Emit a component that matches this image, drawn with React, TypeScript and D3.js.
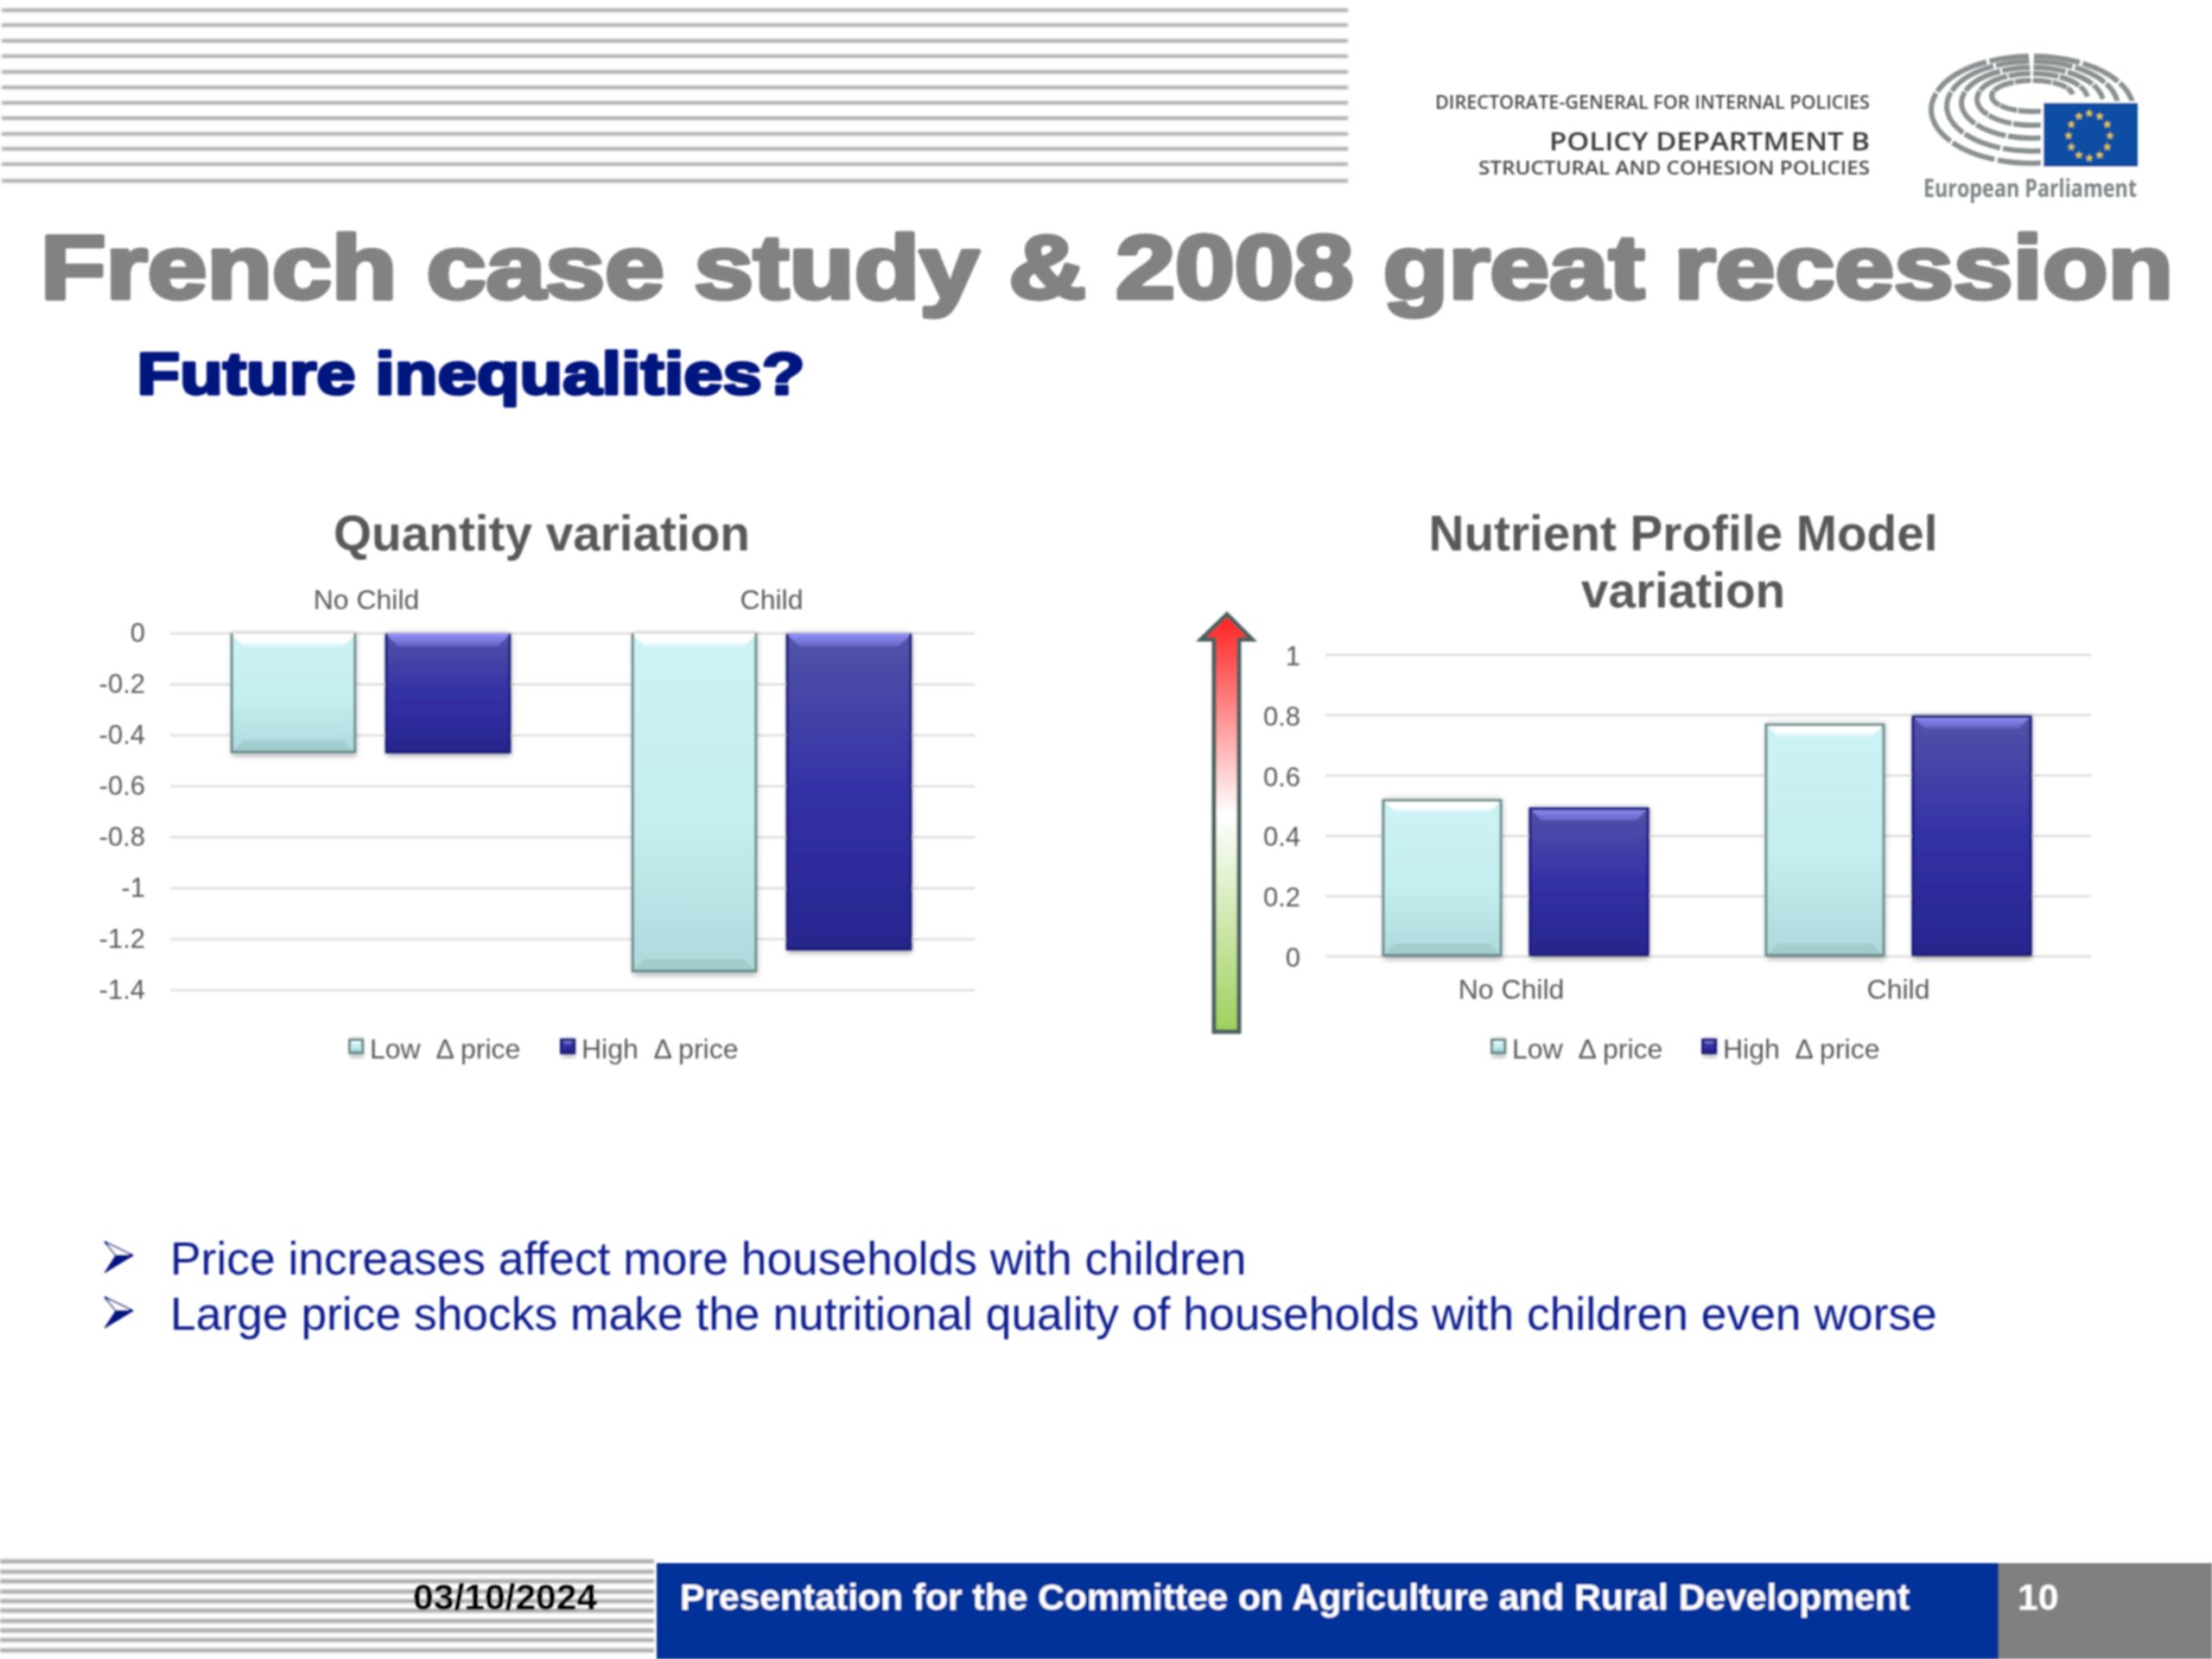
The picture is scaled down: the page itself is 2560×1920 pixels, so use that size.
import React from 'react';
import * as d3 from 'd3';

const FONT = '"Liberation Sans", Arial, sans-serif';
const LOGO_FONT = '"Open Sans", sans-serif';

// chart data
const categories = ['No Child', 'Child'];
const categoryNudge = [-5, 0];
const seriesNames = ['Low', 'High'];
const quantityLow = [-0.47, -1.33];
const quantityHigh = [-0.47, -1.243];
const nutrientLow = [0.522, 0.773];
const nutrientHigh = [0.494, 0.8];
const quantityTicks = [0, -0.2, -0.4, -0.6, -0.8, -1, -1.2, -1.4];
const nutrientTicks = [0, 0.2, 0.4, 0.6, 0.8, 1];

const headerStripes = [11.7, 29, 47.3, 65, 83.3, 101.3, 119, 136.7, 155, 172.3, 190, 209.3];
const footerStripes = [1807, 1819, 1830, 1842, 1853, 1864, 1876, 1887, 1898, 1910];
const bullets = [
  'Price increases affect more households with children',
  'Large price shocks make the nutritional quality of households with children even worse',
];

// logo: [rx, ry, cy] for each ring of the hemicycle
const logoRings = [
  [117, 62, 127],
  [99, 52, 123],
  [82, 41, 119],
  [64, 30, 115],
  [47, 18, 111],
];
const logoSegments = [
  [-195, -160], [-158, -128], [-126, -72], [-70, -27], [-25, -2], [1, 28], [30, 58], [60, 84],
];

const palette: Record<string, { edge: string; bottom: string; grad: string; bevel: string; bottomOpacity: number }> = {
  Low: { edge: '#6d8a8a', bottom: '#93bdc0', grad: 'url(#lowFill)', bevel: 'url(#lowBevel)', bottomOpacity: 0.5 },
  High: { edge: '#1f1f78', bottom: '#25258a', grad: 'url(#highFill)', bevel: 'url(#highBevel)', bottomOpacity: 0.8 },
};

const Bar = ({ name, x, y, w, h, topEdge }: { name: string; x: number; y: number; w: number; h: number; topEdge: boolean }) => {
  const c = palette[name];
  const b = Math.min(15, h / 3);
  return (
    <g>
      <rect x={x + 2} y={y} width={w - 2} height={h + 3} fill="#000" opacity={0.35} filter="url(#barShadow)" />
      <rect x={x} y={y} width={w} height={h} fill={c.grad} />
      <path d={`M${x},${y}H${x + w}l${-b},${b}H${x + b}Z`} fill={c.bevel} />
      <path d={`M${x},${y + h}H${x + w}l${-b},${-b}H${x + b}Z`} fill={c.bottom} opacity={c.bottomOpacity} />
      <path
        d={
          topEdge
            ? `M${x + 1.5},${y + h - 1.5}V${y + 1.5}H${x + w - 1.5}V${y + h - 1.5}Z`
            : `M${x + 1.5},${y}V${y + h - 1.5}H${x + w - 1.5}V${y}`
        }
        fill="none"
        stroke={c.edge}
        strokeWidth={3}
      />
    </g>
  );
};

interface PanelProps {
  low: number[];
  high: number[];
  ticks: number[];
  gridRange: [number, number];
  barRange: [number, number];
  yRange: [number, number];
  domain: [number, number];
  padInner: number;
  padOuter: number;
  tickRight: number;
  tickDy: number;
  catY: number;
  legendX: number[];
  legendY: number;
}

const Panel = ({ low, high, ticks, gridRange, barRange, yRange, domain, padInner, padOuter, tickRight, tickDy, catY, legendX, legendY }: PanelProps) => {
  const x0 = d3.scaleBand<string>().domain(categories).range(barRange);
  const x1 = d3.scaleBand<string>().domain(seriesNames).range([0, x0.bandwidth()]).paddingInner(padInner).paddingOuter(padOuter);
  const y = d3.scaleLinear().domain(domain).range(yRange);
  const values: Record<string, number[]> = { Low: low, High: high };

  return (
    <g fontFamily={FONT} fill="#595959">
      {ticks.map((t) => (
        <g key={t}>
          <line x1={gridRange[0]} x2={gridRange[1]} y1={y(t)} y2={y(t)} stroke="#e1e1e1" strokeWidth={3} />
          <text x={tickRight} y={y(t) + tickDy} textAnchor="end" fontSize={31}>{String(t)}</text>
        </g>
      ))}
      {categories.map((cat, i) => (
        <g key={cat}>
          {seriesNames.map((s) => {
            const v = values[s][i];
            return (
              <Bar
                key={s}
                name={s}
                x={(x0(cat) as number) + (x1(s) as number)}
                y={Math.min(y(v), y(0))}
                w={x1.bandwidth()}
                h={Math.abs(y(v) - y(0))}
                topEdge={v > 0}
              />
            );
          })}
          <text x={(x0(cat) as number) + x0.bandwidth() / 2 + categoryNudge[i]} y={catY} textAnchor="middle" fontSize={32}>{cat}</text>
        </g>
      ))}
      {seriesNames.map((s, i) => (
        <g key={s}>
          <Bar name={s} x={legendX[i]} y={legendY - 23} w={18} h={18} topEdge />
          <text x={legendX[i] + 25} y={legendY} fontSize={32}>{`${s} \u00a0\u0394 price`}</text>
        </g>
      ))}
    </g>
  );
};

const Logo = () => {
  const arc = d3.arc<number[]>()
    .innerRadius(100)
    .outerRadius(100)
    .startAngle((d) => (d[0] * Math.PI) / 180)
    .endAngle((d) => (d[1] * Math.PI) / 180);
  const star = d3.symbol().type(d3.symbolStar).size(30)() as string;
  const starAngles = d3.range(12).map((i) => (i * Math.PI) / 6);
  return (
    <g>
      <g fontFamily={LOGO_FONT} textAnchor="end" fill="#4a4a4a" fontWeight={600}>
        <text x={2164} y={126} fontSize={21} textLength={503} lengthAdjust="spacingAndGlyphs">DIRECTORATE-GENERAL FOR INTERNAL POLICIES</text>
        <text x={2164} y={174} fontSize={29} textLength={371} lengthAdjust="spacingAndGlyphs" fill="#3a3a3a">POLICY DEPARTMENT B</text>
        <text x={2164} y={202} fontSize={22} textLength={453} lengthAdjust="spacingAndGlyphs">STRUCTURAL AND COHESION POLICIES</text>
      </g>
      {logoRings.map(([rx, ry, cy]) => (
        <g key={rx} transform={`translate(2352,${cy}) scale(${rx / 100},${ry / 100})`}>
          {logoSegments.map((seg) => (
            <path key={seg[0]} d={arc(seg) as string} fill="none" stroke="#8a9090" strokeWidth={6} vectorEffect="non-scaling-stroke" />
          ))}
        </g>
      ))}
      <rect x={2362} y={117} width={112} height={77} fill="#fff" />
      <rect x={2365} y={119} width={109} height={74} fill="#0f4da3" />
      {starAngles.map((a) => (
        <path key={a} d={star} fill="#e8cf3a" transform={`translate(${2418 + 24 * Math.sin(a)},${157 - 26 * Math.cos(a)})`} />
      ))}
      <text x={2226} y={228} fontFamily={LOGO_FONT} fontWeight={700} fontSize={28} fill="#7b8284" textLength={247} lengthAdjust="spacingAndGlyphs">European Parliament</text>
    </g>
  );
};

const App = () => {
  const titleGray = '#828282';
  const navy = '#00127f';
  return (
    <svg width={2560} height={1920} style={{ position: 'absolute', left: 0, top: 0, display: 'block', background: '#fff' }}>
      <defs>
        <linearGradient id="lowFill" x1="0" y1="0" x2="0" y2="1">
          <stop offset="0%" stopColor="#cdf3f5" />
          <stop offset="55%" stopColor="#c4eef0" />
          <stop offset="100%" stopColor="#aed9dc" />
        </linearGradient>
        <linearGradient id="highFill" x1="0" y1="0" x2="0" y2="1">
          <stop offset="0%" stopColor="#5453a8" />
          <stop offset="50%" stopColor="#3331a6" />
          <stop offset="100%" stopColor="#28268f" />
        </linearGradient>
        <linearGradient id="lowBevel" x1="0" y1="0" x2="0" y2="1">
          <stop offset="0%" stopColor="#ffffff" />
          <stop offset="60%" stopColor="#ffffff" />
          <stop offset="100%" stopColor="#ddf6f7" />
        </linearGradient>
        <linearGradient id="highBevel" x1="0" y1="0" x2="0" y2="1">
          <stop offset="0%" stopColor="#9693fb" />
          <stop offset="100%" stopColor="#6563c4" />
        </linearGradient>
        <linearGradient id="arrowFill" x1="0" y1="0" x2="0" y2="1">
          <stop offset="0%" stopColor="#ff1f1f" />
          <stop offset="48%" stopColor="#ffffff" />
          <stop offset="100%" stopColor="#9ed05c" />
        </linearGradient>
        <filter id="soft" x="-1%" y="-5%" width="102%" height="110%">
          <feGaussianBlur stdDeviation="1" />
        </filter>
        <filter id="softAll" filterUnits="userSpaceOnUse" x="0" y="0" width="2560" height="1920">
          <feGaussianBlur stdDeviation="0.8" />
        </filter>
        <filter id="barShadow" x="-10%" y="-10%" width="120%" height="120%">
          <feGaussianBlur stdDeviation="3" />
        </filter>
      </defs>

      <g filter="url(#softAll)">
        <g filter="url(#soft)">
          {headerStripes.map((y) => (
            <line key={y} x1={2} x2={1560} y1={y} y2={y} stroke="#9e9e9e" strokeWidth={3.5} />
          ))}
        </g>

        <Logo />

        <g fontFamily={FONT} fontWeight={700}>
          <text x={47} y={345} fontSize={104} fill={titleGray} stroke={titleGray} strokeWidth={5} strokeLinejoin="round" textLength={2468} lengthAdjust="spacingAndGlyphs">French case study &amp; 2008 great recession</text>
          <text x={158.5} y={456} fontSize={69} fill={navy} stroke={navy} strokeWidth={3.5} strokeLinejoin="round" textLength={773} lengthAdjust="spacingAndGlyphs">Future inequalities?</text>
        </g>

        <g fontFamily={FONT} fontWeight={700} fontSize={56.7} fill="#595959" textAnchor="middle">
          <text x={627} y={637}>Quantity variation</text>
          <text x={1948} y={637}>Nutrient Profile Model</text>
          <text x={1948} y={703}>variation</text>
        </g>

        <Panel
          low={quantityLow}
          high={quantityHigh}
          ticks={quantityTicks}
          gridRange={[197, 1128]}
          barRange={[197, 1125]}
          yRange={[733, 1146]}
          domain={[0, -1.4]}
          padInner={0.187}
          padOuter={0.39}
          tickRight={168}
          tickDy={10}
          catY={705}
          legendX={[403, 648]}
          legendY={1225}
        />

        <path
          d="M1420,711 L1449,740 L1434,740 L1434,1194 L1405,1194 L1405,740 L1390,740 Z"
          fill="url(#arrowFill)"
          stroke="#4a5f5f"
          strokeWidth={5}
          strokeLinejoin="miter"
        />

        <Panel
          low={nutrientLow}
          high={nutrientHigh}
          ticks={nutrientTicks}
          gridRange={[1534, 2420]}
          barRange={[1532.5, 2418.5]}
          yRange={[1107, 758]}
          domain={[0, 1]}
          padInner={0.182}
          padOuter={0.394}
          tickRight={1505}
          tickDy={12}
          catY={1156}
          legendX={[1725, 1969]}
          legendY={1225}
        />

        {bullets.map((b, i) => {
          const dy = i * 64;
          return (
            <g key={b}>
              <path d={`M121,${1437 + dy} L154,${1453 + dy} L134,${1453 + dy} Z`} fill="#fff" stroke={navy} strokeWidth={1.5} />
              <path d={`M121,${1473 + dy} L154,${1453 + dy} L134,${1453 + dy} Z`} fill={navy} stroke={navy} strokeWidth={1} />
              <text x={197} y={1475 + dy} fontFamily={FONT} fontSize={53.4} fill="#0a1a8c">{b}</text>
            </g>
          );
        })}

        <g filter="url(#soft)">
          {footerStripes.map((y) => (
            <line key={y} x1={0} x2={757} y1={y} y2={y} stroke="#a6a6a6" strokeWidth={4.5} />
          ))}
        </g>
        <rect x={760} y={1809} width={1553} height={111} fill="#003299" />
        <rect x={2313} y={1809} width={247} height={111} fill="#808080" />
        <g fontFamily={FONT} fontWeight={700} fontSize={42.6}>
          <text x={478} y={1863} fill="#000">03/10/2024</text>
          <text x={787} y={1863} fill="#fff">Presentation for the Committee on Agriculture and Rural Development</text>
          <text x={2335} y={1863} fill="#fff">10</text>
        </g>
      </g>
    </svg>
  );
};

export default App;
